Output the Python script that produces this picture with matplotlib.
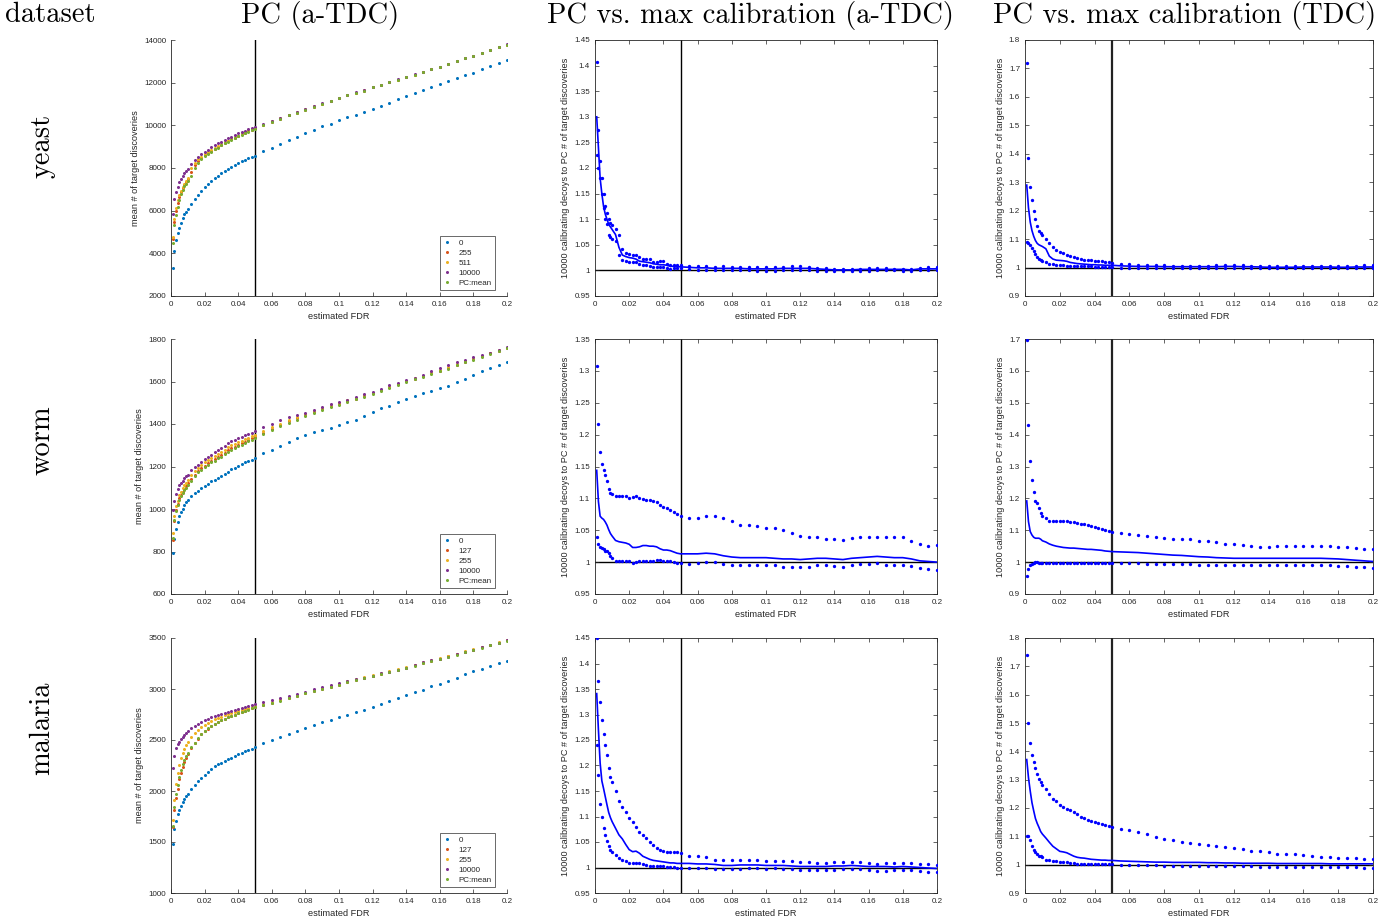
import matplotlib
matplotlib.use("Agg")
import matplotlib.pyplot as plt
from matplotlib.ticker import FuncFormatter, MultipleLocator

# ---------------- data ----------------
fdr = [0.001, 0.002, 0.003, 0.004, 0.005, 0.006, 0.007, 0.008, 0.009, 0.010,
       0.012, 0.014, 0.016, 0.018, 0.020, 0.022, 0.024, 0.026, 0.028, 0.030,
       0.032, 0.034, 0.036, 0.038, 0.040, 0.042, 0.044, 0.046, 0.048, 0.050,
       0.055, 0.060, 0.065, 0.070, 0.075, 0.080, 0.085, 0.090, 0.095, 0.100,
       0.105, 0.110, 0.115, 0.120, 0.125, 0.130, 0.135, 0.140, 0.145, 0.150,
       0.155, 0.160, 0.165, 0.170, 0.175, 0.180, 0.185, 0.190, 0.195, 0.200]

datasets = ["yeast", "worm", "malaria"]
col_titles = ["PC (a-TDC)", "PC vs. max calibration (a-TDC)", "PC vs. max calibration (TDC)"]
legend_labels = [["0", "255", "511", "10000", "PC:mean"],
                 ["0", "127", "255", "10000", "PC:mean"],
                 ["0", "127", "255", "10000", "PC:mean"]]

# yeast: mean # of target discoveries
yeast_0 = [3330, 4112, 4629, 4942, 5207, 5442, 5646, 5833, 5943, 6099,
           6318, 6537, 6756, 6928, 7101, 7257, 7413, 7539, 7648, 7780,
           7870, 7960, 8050, 8140, 8230, 8310, 8390, 8460, 8520, 8580,
           8790, 8947, 9103, 9291, 9463, 9635, 9776, 9948, 10073, 10230,
           10370, 10480, 10621, 10746, 10902, 11059, 11231, 11372, 11512, 11669,
           11810, 11935, 12091, 12216, 12357, 12467, 12623, 12764, 12920, 13061]
yeast_255 = [4650, 5480, 5980, 6360, 6650, 6860, 7040, 7220, 7340, 7480,
             7820, 8120, 8330, 8470, 8590, 8690, 8795, 8900, 8990, 9085,
             9175, 9255, 9340, 9420, 9500, 9580, 9655, 9720, 9795, 9865,
             10020, 10175, 10315, 10470, 10598, 10738, 10878, 11003, 11143, 11268,
             11409, 11518, 11628, 11784, 11894, 12016, 12141, 12251, 12376, 12501,
             12626, 12751, 12876, 13001, 13142, 13267, 13392, 13532, 13658, 13783]
yeast_511 = [4769, 5598, 6115, 6506, 6756, 6928, 7116, 7273, 7398, 7539,
             7977, 8243, 8399, 8524, 8634, 8730, 8830, 8930, 9020, 9110,
             9200, 9280, 9360, 9440, 9520, 9600, 9670, 9740, 9810, 9880,
             10030, 10180, 10325, 10480, 10605, 10745, 10885, 11010, 11150, 11275,
             11415, 11525, 11635, 11790, 11900, 12020, 12145, 12255, 12380, 12505,
             12630, 12755, 12880, 13005, 13145, 13270, 13395, 13535, 13660, 13785]
yeast_10000 = [5865, 6553, 6882, 7132, 7335, 7507, 7632, 7773, 7866, 7961,
               8180, 8368, 8509, 8650, 8760, 8853, 8962, 9056, 9150, 9228,
               9306, 9385, 9463, 9541, 9619, 9682, 9744, 9807, 9869, 9932,
               10060, 10210, 10350, 10500, 10630, 10770, 10900, 11030, 11160, 11290,
               11420, 11540, 11650, 11800, 11910, 12030, 12150, 12260, 12385, 12510,
               12630, 12755, 12880, 13005, 13145, 13270, 13395, 13535, 13660, 13790]
yeast_pcmean = [4503, 5348, 5818, 6193, 6522, 6772, 6960, 7163, 7273, 7413,
                7648, 7977, 8243, 8399, 8540, 8650, 8760, 8870, 8960, 9060,
                9150, 9230, 9320, 9400, 9480, 9560, 9640, 9700, 9780, 9850,
                10011, 10167, 10308, 10464, 10590, 10730, 10871, 10996, 11137, 11262,
                11403, 11512, 11622, 11778, 11888, 12013, 12138, 12248, 12373, 12498,
                12623, 12748, 12873, 12998, 13139, 13265, 13390, 13530, 13656, 13781]

# worm
worm_0 = [793, 860, 905, 940, 965, 984, 1001, 1017, 1031, 1043,
          1062, 1076, 1087, 1098, 1109, 1119, 1130, 1137, 1147, 1156,
          1166, 1176, 1189, 1195, 1203, 1211, 1219, 1225, 1231, 1242,
          1263, 1280, 1297, 1317, 1333, 1347, 1361, 1372, 1383, 1394,
          1408, 1421, 1438, 1457, 1474, 1485, 1502, 1516, 1532, 1546,
          1556, 1568, 1581, 1596, 1610, 1631, 1650, 1665, 1679, 1693]
worm_127 = [855, 942, 996, 1025, 1050, 1066, 1082, 1096, 1108, 1121,
            1142, 1161, 1178, 1192, 1204, 1215, 1226, 1235, 1245, 1254,
            1265, 1276, 1286, 1294, 1302, 1309, 1317, 1325, 1333, 1339,
            1360, 1378, 1395, 1412, 1426, 1442, 1455, 1470, 1483, 1495,
            1508, 1520, 1532, 1545, 1559, 1573, 1587, 1601, 1613, 1626,
            1639, 1651, 1665, 1679, 1693, 1706, 1719, 1732, 1745, 1758]
worm_255 = [887, 968, 1012, 1040, 1064, 1082, 1098, 1111, 1122, 1137,
            1159, 1177, 1192, 1208, 1219, 1229, 1240, 1250, 1260, 1270,
            1280, 1290, 1300, 1308, 1315, 1322, 1329, 1336, 1342, 1348,
            1366, 1384, 1400, 1417, 1431, 1446, 1459, 1474, 1486, 1498,
            1511, 1523, 1535, 1548, 1562, 1576, 1590, 1603, 1615, 1628,
            1642, 1655, 1668, 1682, 1695, 1709, 1721, 1733, 1746, 1759]
worm_10000 = [996, 1040, 1072, 1095, 1111, 1122, 1134, 1144, 1153, 1162,
              1183, 1198, 1209, 1222, 1234, 1245, 1256, 1267, 1278, 1288,
              1297, 1310, 1319, 1327, 1333, 1341, 1347, 1354, 1360, 1369,
              1385, 1400, 1419, 1432, 1444, 1454, 1466, 1482, 1493, 1504,
              1515, 1526, 1540, 1552, 1567, 1582, 1595, 1607, 1618, 1632,
              1648, 1664, 1678, 1690, 1700, 1714, 1725, 1734, 1747, 1764]
worm_pcmean = [863, 946, 989, 1020, 1043, 1059, 1075, 1089, 1101, 1114,
               1134, 1153, 1172, 1184, 1197, 1208, 1219, 1228, 1238, 1247,
               1258, 1269, 1280, 1288, 1296, 1303, 1311, 1319, 1327, 1333,
               1354, 1372, 1390, 1407, 1421, 1438, 1451, 1466, 1479, 1491,
               1504, 1516, 1529, 1541, 1556, 1570, 1584, 1598, 1610, 1623,
               1636, 1648, 1661, 1676, 1690, 1703, 1717, 1730, 1744, 1756]

# malaria
malaria_0 = [1479, 1626, 1707, 1772, 1818, 1857, 1893, 1926, 1952, 1971,
             2023, 2059, 2095, 2124, 2154, 2183, 2212, 2242, 2265, 2278,
             2294, 2310, 2327, 2343, 2362, 2375, 2392, 2405, 2415, 2434,
             2470, 2499, 2529, 2558, 2587, 2613, 2643, 2672, 2698, 2724,
             2750, 2773, 2799, 2825, 2855, 2881, 2910, 2946, 2972, 2995,
             3027, 3053, 3080, 3112, 3148, 3174, 3197, 3229, 3256, 3278]
malaria_127 = [1645, 1815, 1929, 2023, 2115, 2180, 2239, 2285, 2327, 2359,
               2418, 2470, 2514, 2556, 2586, 2612, 2636, 2656, 2675, 2692,
               2708, 2722, 2735, 2748, 2761, 2774, 2787, 2800, 2811, 2824,
               2844, 2866, 2889, 2912, 2935, 2958, 2980, 3003, 3023, 3042,
               3068, 3088, 3108, 3127, 3150, 3170, 3189, 3209, 3231, 3254,
               3277, 3297, 3319, 3339, 3362, 3385, 3407, 3430, 3453, 3476]
malaria_255 = [1711, 1913, 2066, 2173, 2255, 2320, 2369, 2415, 2450, 2483,
               2525, 2565, 2597, 2623, 2646, 2666, 2685, 2702, 2715, 2728,
               2741, 2751, 2763, 2773, 2783, 2796, 2806, 2816, 2825, 2835,
               2850, 2872, 2895, 2918, 2941, 2964, 2986, 3009, 3029, 3048,
               3074, 3094, 3114, 3133, 3156, 3176, 3195, 3215, 3237, 3260,
               3283, 3303, 3325, 3345, 3368, 3391, 3413, 3436, 3459, 3480]
malaria_10000 = [2229, 2346, 2418, 2457, 2480, 2506, 2529, 2551, 2568, 2584,
                 2613, 2639, 2659, 2675, 2692, 2708, 2721, 2734, 2744, 2754,
                 2763, 2773, 2783, 2793, 2802, 2812, 2822, 2832, 2842, 2851,
                 2868, 2890, 2913, 2936, 2952, 2975, 2998, 3018, 3040, 3060,
                 3079, 3099, 3112, 3132, 3155, 3171, 3191, 3210, 3239, 3262,
                 3282, 3298, 3317, 3340, 3366, 3386, 3409, 3431, 3454, 3477]
malaria_pcmean = [1652, 1841, 1968, 2063, 2141, 2206, 2261, 2304, 2343, 2375,
                  2428, 2473, 2516, 2558, 2587, 2613, 2636, 2656, 2675, 2692,
                  2708, 2721, 2734, 2747, 2760, 2773, 2786, 2799, 2809, 2822,
                  2842, 2864, 2887, 2910, 2933, 2956, 2978, 3001, 3021, 3040,
                  3066, 3086, 3106, 3125, 3148, 3168, 3187, 3207, 3229, 3252,
                  3275, 3295, 3317, 3337, 3360, 3383, 3405, 3428, 3451, 3474]

# ratio: 10000 calibrating decoys / PC  (upper dots, lower dots, mean line)
yeast_atdc_up = [1.408, 1.275, 1.214, 1.181, 1.149, 1.126, 1.113, 1.101, 1.092, 1.088,
                 1.080, 1.070, 1.041, 1.034, 1.032, 1.031, 1.030, 1.027, 1.023, 1.023,
                 1.022, 1.017, 1.017, 1.018, 1.018, 1.013, 1.011, 1.011, 1.011, 1.011,
                 1.009, 1.009, 1.008, 1.007, 1.009, 1.007, 1.006, 1.006, 1.006, 1.006,
                 1.006, 1.007, 1.008, 1.008, 1.007, 1.005, 1.004, 1.003, 1.002, 1.002,
                 1.003, 1.004, 1.004, 1.004, 1.003, 1.003, 1.002, 1.005, 1.006, 1.006]
yeast_atdc_lo = [1.226, 1.200, 1.180, 1.150, 1.122, 1.100, 1.090, 1.070, 1.065, 1.062,
                 1.058, 1.030, 1.020, 1.019, 1.017, 1.016, 1.017, 1.012, 1.011, 1.011,
                 1.009, 1.006, 1.006, 1.007, 1.007, 1.005, 1.003, 1.004, 1.004, 1.004,
                 1.002, 1.001, 1.001, 1.001, 1.001, 1.000, 1.000, 1.000, 0.999, 0.999,
                 0.999, 1.000, 1.000, 1.000, 1.000, 0.999, 0.999, 0.999, 0.998, 0.998,
                 0.999, 0.999, 1.000, 1.000, 1.000, 0.999, 0.999, 1.000, 1.000, 1.001]
yeast_atdc_pc = [1.300, 1.240, 1.180, 1.150, 1.125, 1.110, 1.100, 1.090, 1.085, 1.080,
                 1.070, 1.045, 1.030, 1.027, 1.025, 1.024, 1.022, 1.018, 1.017, 1.016,
                 1.015, 1.013, 1.012, 1.011, 1.011, 1.010, 1.008, 1.008, 1.007, 1.007,
                 1.006, 1.005, 1.005, 1.004, 1.004, 1.004, 1.004, 1.003, 1.003, 1.003,
                 1.003, 1.004, 1.004, 1.004, 1.004, 1.003, 1.002, 1.001, 1.001, 1.001,
                 1.002, 1.002, 1.002, 1.002, 1.002, 1.002, 1.001, 1.003, 1.003, 1.003]

yeast_tdc_up = [1.719, 1.385, 1.284, 1.237, 1.198, 1.169, 1.146, 1.128, 1.120, 1.113,
                1.100, 1.088, 1.071, 1.060, 1.054, 1.050, 1.044, 1.039, 1.036, 1.032,
                1.030, 1.027, 1.026, 1.025, 1.024, 1.023, 1.022, 1.021, 1.019, 1.016,
                1.014, 1.012, 1.010, 1.009, 1.009, 1.008, 1.007, 1.007, 1.007, 1.007,
                1.007, 1.008, 1.009, 1.009, 1.008, 1.007, 1.006, 1.006, 1.006, 1.006,
                1.006, 1.007, 1.007, 1.007, 1.007, 1.006, 1.006, 1.007, 1.008, 1.008]
yeast_tdc_lo = [1.090, 1.088, 1.080, 1.068, 1.058, 1.048, 1.038, 1.030, 1.025, 1.022,
                1.018, 1.013, 1.011, 1.010, 1.009, 1.008, 1.007, 1.006, 1.006, 1.005,
                1.005, 1.004, 1.004, 1.004, 1.003, 1.003, 1.003, 1.003, 1.003, 1.003,
                1.000, 1.000, 0.999, 0.999, 0.999, 0.999, 0.998, 0.998, 0.998, 0.998,
                0.998, 0.998, 0.999, 0.999, 0.999, 0.998, 0.998, 0.997, 0.997, 0.997,
                0.998, 0.998, 0.998, 0.998, 0.998, 0.998, 0.998, 0.999, 0.999, 0.999]
yeast_tdc_pc = [1.290, 1.210, 1.160, 1.130, 1.110, 1.095, 1.085, 1.080, 1.077, 1.074,
                1.066, 1.040, 1.030, 1.026, 1.025, 1.024, 1.022, 1.018, 1.016, 1.014,
                1.013, 1.012, 1.011, 1.010, 1.010, 1.009, 1.009, 1.008, 1.008, 1.008,
                1.006, 1.005, 1.004, 1.004, 1.004, 1.003, 1.003, 1.003, 1.003, 1.003,
                1.003, 1.003, 1.004, 1.004, 1.003, 1.003, 1.002, 1.001, 1.001, 1.001,
                1.001, 1.002, 1.002, 1.002, 1.002, 1.001, 1.001, 1.002, 1.002, 1.002]

worm_atdc_up = [1.308, 1.217, 1.173, 1.154, 1.145, 1.137, 1.128, 1.115, 1.109, 1.107,
                1.104, 1.104, 1.103, 1.103, 1.101, 1.102, 1.103, 1.101, 1.099, 1.098,
                1.097, 1.096, 1.095, 1.090, 1.086, 1.085, 1.081, 1.079, 1.076, 1.072,
                1.070, 1.069, 1.073, 1.073, 1.069, 1.064, 1.059, 1.059, 1.057, 1.054,
                1.053, 1.050, 1.046, 1.041, 1.040, 1.040, 1.037, 1.037, 1.035, 1.038,
                1.040, 1.040, 1.040, 1.040, 1.040, 1.040, 1.033, 1.029, 1.026, 1.027]
worm_atdc_lo = [1.040, 1.029, 1.024, 1.022, 1.021, 1.017, 1.017, 1.015, 1.010, 1.006,
                1.002, 1.002, 1.002, 1.002, 1.001, 0.998, 1.000, 1.002, 1.002, 1.001,
                1.001, 1.002, 1.003, 1.003, 1.002, 1.001, 1.001, 1.000, 0.999, 0.999,
                0.997, 0.998, 1.000, 1.000, 0.997, 0.995, 0.995, 0.995, 0.995, 0.995,
                0.995, 0.993, 0.992, 0.992, 0.993, 0.995, 0.995, 0.994, 0.993, 0.995,
                0.997, 0.997, 0.998, 0.996, 0.996, 0.996, 0.994, 0.991, 0.989, 0.988]
worm_atdc_pc = [1.144, 1.095, 1.072, 1.069, 1.067, 1.063, 1.058, 1.051, 1.045, 1.041,
                1.034, 1.032, 1.031, 1.030, 1.028, 1.023, 1.023, 1.024, 1.026, 1.026,
                1.025, 1.025, 1.024, 1.021, 1.019, 1.019, 1.018, 1.016, 1.014, 1.013,
                1.013, 1.013, 1.014, 1.013, 1.010, 1.008, 1.007, 1.007, 1.007, 1.007,
                1.006, 1.005, 1.005, 1.004, 1.005, 1.006, 1.006, 1.005, 1.004, 1.006,
                1.007, 1.008, 1.009, 1.008, 1.007, 1.007, 1.005, 1.002, 1.001, 1.000]

worm_tdc_up = [1.698, 1.429, 1.317, 1.259, 1.221, 1.193, 1.185, 1.169, 1.155, 1.145,
               1.138, 1.130, 1.130, 1.130, 1.129, 1.129, 1.128, 1.127, 1.126, 1.123,
               1.120, 1.119, 1.116, 1.114, 1.109, 1.106, 1.103, 1.101, 1.099, 1.096,
               1.091, 1.088, 1.084, 1.082, 1.080, 1.075, 1.073, 1.073, 1.071, 1.066,
               1.065, 1.063, 1.056, 1.056, 1.054, 1.052, 1.049, 1.049, 1.050, 1.050,
               1.052, 1.052, 1.051, 1.050, 1.050, 1.048, 1.047, 1.044, 1.042, 1.040]
worm_tdc_lo = [0.957, 0.978, 0.991, 0.995, 0.997, 0.999, 1.000, 0.997, 0.996, 0.996,
               0.996, 0.996, 0.996, 0.996, 0.996, 0.997, 0.997, 0.997, 0.997, 0.998,
               0.998, 0.998, 0.998, 0.998, 0.998, 0.997, 0.997, 0.997, 0.997, 0.997,
               0.996, 0.996, 0.996, 0.995, 0.995, 0.994, 0.994, 0.993, 0.993, 0.992,
               0.992, 0.991, 0.991, 0.991, 0.991, 0.991, 0.992, 0.992, 0.992, 0.992,
               0.992, 0.992, 0.991, 0.991, 0.990, 0.989, 0.988, 0.986, 0.985, 0.983]
worm_tdc_pc = [1.192, 1.127, 1.096, 1.085, 1.078, 1.075, 1.075, 1.075, 1.072, 1.067,
               1.063, 1.057, 1.053, 1.050, 1.048, 1.046, 1.045, 1.044, 1.044, 1.043,
               1.042, 1.041, 1.040, 1.040, 1.039, 1.038, 1.037, 1.035, 1.034, 1.033,
               1.032, 1.031, 1.030, 1.028, 1.026, 1.024, 1.022, 1.021, 1.019, 1.017,
               1.016, 1.014, 1.013, 1.012, 1.012, 1.012, 1.012, 1.012, 1.012, 1.012,
               1.012, 1.012, 1.012, 1.012, 1.011, 1.010, 1.008, 1.006, 1.004, 1.002]

malaria_atdc_up = [1.450, 1.365, 1.325, 1.290, 1.261, 1.241, 1.221, 1.195, 1.177, 1.168,
                   1.150, 1.131, 1.119, 1.108, 1.098, 1.089, 1.079, 1.070, 1.064, 1.057,
                   1.050, 1.045, 1.039, 1.035, 1.032, 1.031, 1.030, 1.030, 1.030, 1.028,
                   1.023, 1.022, 1.020, 1.015, 1.014, 1.014, 1.014, 1.014, 1.014, 1.013,
                   1.013, 1.012, 1.012, 1.010, 1.010, 1.008, 1.008, 1.010, 1.011, 1.011,
                   1.010, 1.009, 1.007, 1.008, 1.008, 1.009, 1.008, 1.007, 1.006, 1.005]
malaria_atdc_lo = [1.240, 1.181, 1.124, 1.100, 1.078, 1.064, 1.052, 1.043, 1.035, 1.030,
                   1.025, 1.018, 1.015, 1.012, 1.009, 1.009, 1.009, 1.008, 1.006, 1.004,
                   1.003, 1.002, 1.002, 1.002, 1.002, 1.001, 1.001, 1.001, 1.000, 1.000,
                   1.000, 1.000, 1.000, 0.998, 0.998, 0.998, 0.998, 0.999, 0.999, 0.998,
                   0.999, 0.998, 0.998, 0.996, 0.996, 0.995, 0.995, 0.996, 0.997, 0.997,
                   0.997, 0.996, 0.994, 0.994, 0.995, 0.995, 0.995, 0.994, 0.992, 0.991]
malaria_atdc_pc = [1.341, 1.270, 1.205, 1.170, 1.155, 1.139, 1.123, 1.108, 1.098, 1.090,
                   1.077, 1.064, 1.056, 1.045, 1.035, 1.031, 1.032, 1.028, 1.022, 1.019,
                   1.016, 1.014, 1.013, 1.012, 1.011, 1.010, 1.009, 1.009, 1.008, 1.008,
                   1.008, 1.007, 1.007, 1.006, 1.004, 1.004, 1.005, 1.005, 1.005, 1.004,
                   1.004, 1.004, 1.003, 1.002, 1.002, 1.002, 1.002, 1.003, 1.003, 1.004,
                   1.003, 1.002, 1.002, 1.002, 1.001, 1.002, 1.001, 1.000, 0.999, 0.998]

malaria_tdc_up = [1.739, 1.500, 1.430, 1.386, 1.362, 1.342, 1.321, 1.303, 1.292, 1.282,
                  1.266, 1.248, 1.233, 1.225, 1.210, 1.204, 1.198, 1.192, 1.185, 1.178,
                  1.170, 1.163, 1.157, 1.153, 1.149, 1.146, 1.142, 1.139, 1.135, 1.132,
                  1.125, 1.121, 1.116, 1.108, 1.098, 1.092, 1.087, 1.081, 1.077, 1.072,
                  1.071, 1.067, 1.064, 1.060, 1.056, 1.050, 1.047, 1.043, 1.039, 1.038,
                  1.037, 1.035, 1.030, 1.027, 1.026, 1.024, 1.023, 1.022, 1.021, 1.019]
malaria_tdc_lo = [1.102, 1.100, 1.086, 1.066, 1.053, 1.043, 1.036, 1.032, 1.029, 1.026,
                  1.018, 1.015, 1.013, 1.012, 1.010, 1.009, 1.008, 1.006, 1.005, 1.004,
                  1.004, 1.003, 1.003, 1.003, 1.002, 1.002, 1.002, 1.002, 1.001, 1.001,
                  1.000, 0.999, 0.999, 0.998, 0.998, 0.997, 0.997, 0.997, 0.997, 0.996,
                  0.996, 0.995, 0.995, 0.994, 0.994, 0.994, 0.993, 0.993, 0.993, 0.993,
                  0.993, 0.993, 0.992, 0.992, 0.992, 0.992, 0.991, 0.991, 0.990, 0.990]
malaria_tdc_pc = [1.371, 1.307, 1.260, 1.219, 1.190, 1.163, 1.146, 1.132, 1.117, 1.108,
                  1.094, 1.079, 1.065, 1.056, 1.047, 1.045, 1.042, 1.036, 1.030, 1.026,
                  1.024, 1.023, 1.021, 1.019, 1.018, 1.017, 1.016, 1.016, 1.015, 1.015,
                  1.013, 1.012, 1.011, 1.010, 1.009, 1.009, 1.008, 1.008, 1.008, 1.008,
                  1.007, 1.007, 1.006, 1.006, 1.005, 1.005, 1.005, 1.005, 1.004, 1.004,
                  1.004, 1.004, 1.004, 1.004, 1.003, 1.003, 1.003, 1.003, 1.003, 1.003]

left_series = [
    [yeast_0, yeast_255, yeast_511, yeast_10000, yeast_pcmean],
    [worm_0, worm_127, worm_255, worm_10000, worm_pcmean],
    [malaria_0, malaria_127, malaria_255, malaria_10000, malaria_pcmean],
]
ratio_series = [
    [(yeast_atdc_up, yeast_atdc_lo, yeast_atdc_pc), (yeast_tdc_up, yeast_tdc_lo, yeast_tdc_pc)],
    [(worm_atdc_up, worm_atdc_lo, worm_atdc_pc), (worm_tdc_up, worm_tdc_lo, worm_tdc_pc)],
    [(malaria_atdc_up, malaria_atdc_lo, malaria_atdc_pc), (malaria_tdc_up, malaria_tdc_lo, malaria_tdc_pc)],
]

left_ylims = [(2000, 14000, 2000), (600, 1800, 200), (1000, 3500, 500)]
ratio_ylims = [[(0.95, 1.45, 0.05), (0.9, 1.8, 0.1)],
               [(0.95, 1.35, 0.05), (0.9, 1.7, 0.1)],
               [(0.95, 1.45, 0.05), (0.9, 1.8, 0.1)]]

# ---------------- style ----------------
plt.rcParams['font.family'] = ['Liberation Sans', 'DejaVu Sans']
W, H = 1395, 924
fig = plt.figure(figsize=(W / 100, H / 100), dpi=100)

mat_colors = ['#0072BD', '#D95319', '#EDB120', '#7E2F8E', '#77AC30']
axcol = '#262626'
TICK_FS = 5.8
LAB_FS = 6.6
TITLE_FONT = 'cmr10'
TITLE_FS = 20.5

row_px = [(40, 296), (339, 594), (638, 893)]
col_px = [(171, 507), (595, 937), (1025, 1373)]

fmt = FuncFormatter(lambda v, p: ('%g' % round(v, 4)))


def make_ax(c, r):
    x0, x1 = col_px[c]
    y0, y1 = row_px[r]
    return fig.add_axes([x0 / W, 1 - y1 / H, (x1 - x0) / W, (y1 - y0) / H])


def style(ax, box):
    for s in ax.spines.values():
        s.set_color(axcol)
        s.set_linewidth(0.6)
    if not box:
        ax.spines['top'].set_visible(False)
        ax.spines['right'].set_visible(False)
    ax.tick_params(direction='in', length=2.8, width=0.5, colors=axcol,
                   labelsize=TICK_FS, pad=3.5, top=box, right=box)
    ax.set_xlim(0, 0.2)
    ax.xaxis.set_major_locator(MultipleLocator(0.02))
    ax.xaxis.set_major_formatter(fmt)
    ax.yaxis.set_major_formatter(fmt)
    ax.set_xlabel('estimated FDR', fontsize=LAB_FS, color=axcol, labelpad=3)


for r in range(3):
    # left column: mean # of target discoveries
    ax = make_ax(0, r)
    style(ax, box=False)
    lo, hi, st = left_ylims[r]
    ax.set_ylim(lo, hi)
    ax.yaxis.set_major_locator(MultipleLocator(st))
    for k, ser in enumerate(left_series[r]):
        ax.plot(fdr, ser, linestyle='none', marker='o', ms=2.2, mew=0,
                color=mat_colors[k], label=legend_labels[r][k])
    ax.axvline(0.05, color='k', lw=1.0, zorder=1)
    ax.set_ylabel('mean # of target discoveries', fontsize=LAB_FS, color=axcol, labelpad=3)
    leg = ax.legend(loc='lower right', bbox_to_anchor=(0.964, 0.022), borderaxespad=0,
                    fontsize=5.8, frameon=True, fancybox=False, handlelength=1.0,
                    handletextpad=0.9, labelspacing=0.3, borderpad=0.4, markerscale=1.0)
    leg.get_frame().set_edgecolor(axcol)
    leg.get_frame().set_linewidth(0.6)
    for t in leg.get_texts():
        t.set_color(axcol)

    # ratio columns
    for j in range(2):
        ax = make_ax(1 + j, r)
        style(ax, box=True)
        lo, hi, st = ratio_ylims[r][j]
        ax.set_ylim(lo, hi)
        ax.yaxis.set_major_locator(MultipleLocator(st))
        up, low, mean = ratio_series[r][j]
        ax.axhline(1.0, color='k', lw=1.0, zorder=1)
        ax.axvline(0.05, color='k' if j == 0 else '#222222', lw=1.0 if j == 0 else 1.6, zorder=1)
        ax.plot(fdr, up, linestyle='none', marker='o', ms=2.4, mew=0, color='#0000FF', zorder=3)
        ax.plot(fdr, low, linestyle='none', marker='o', ms=2.4, mew=0, color='#0000FF', zorder=3)
        ax.plot(fdr, mean, color='#0000FF', lw=1.2, zorder=3)
        ax.set_ylabel('10000 calibrating decoys to PC # of target discoveries',
                      fontsize=LAB_FS, color=axcol, labelpad=3)

# titles and row labels
fig.text(50 / W, 1 - 15 / H, 'dataset', fontfamily=TITLE_FONT, fontsize=TITLE_FS,
         ha='center', va='center')
for x, t in zip([320, 750, 1185], col_titles):
    fig.text(x / W, 1 - 15 / H, t, fontfamily=TITLE_FONT, fontsize=TITLE_FS,
             ha='center', va='center')
for y, t in zip([146, 440, 728], datasets):
    fig.text(42 / W, 1 - y / H, t, fontfamily=TITLE_FONT, fontsize=TITLE_FS,
             ha='center', va='center', rotation=90)

fig.savefig('out.png', dpi=100)
